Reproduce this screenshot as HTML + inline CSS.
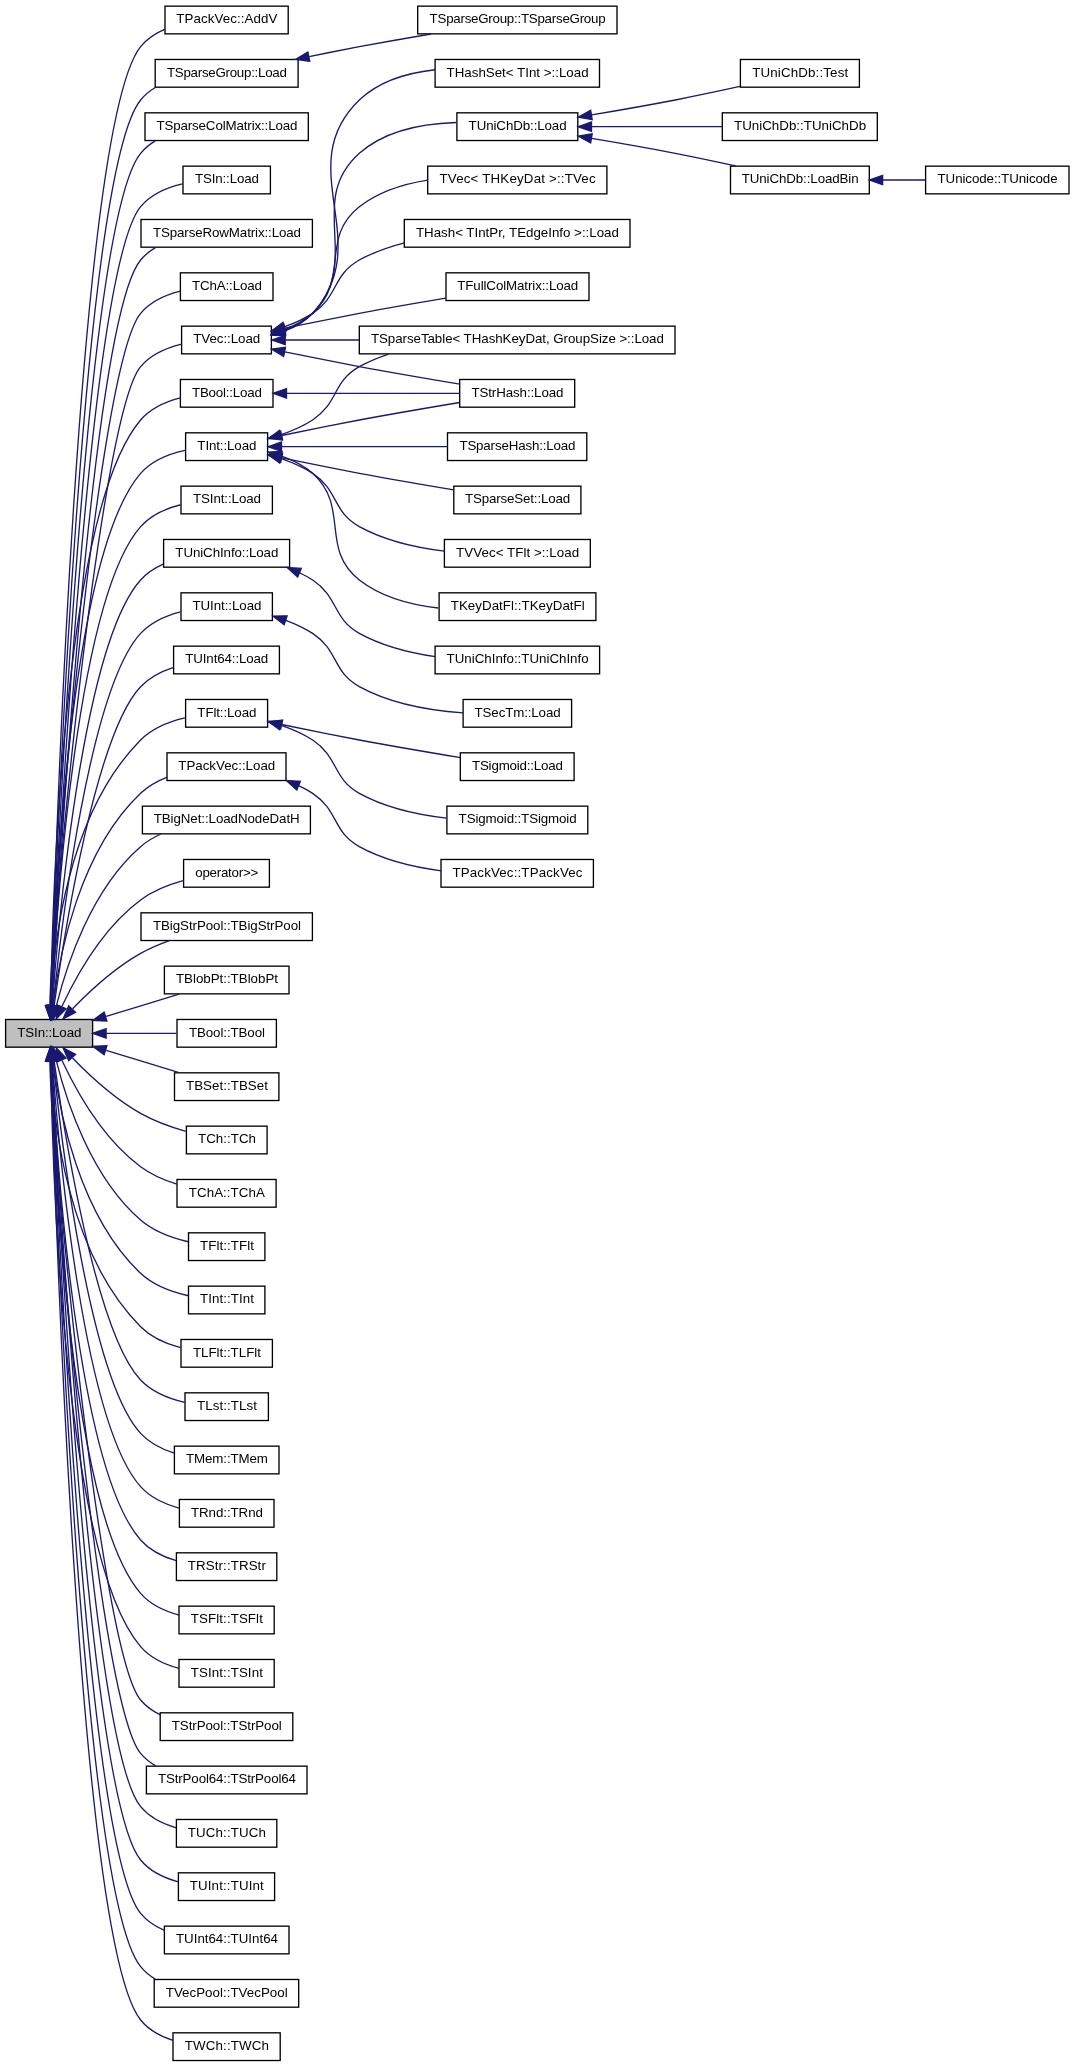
<!DOCTYPE html>
<html lang="en"><head><meta charset="utf-8"><title>TSIn::Load call graph</title>
<style>html,body{margin:0;padding:0;background:#fff}svg{display:block;will-change:transform}.n rect{fill:#fff;stroke:#000;stroke-width:1.33}.n text{font-family:"Liberation Sans",sans-serif;font-size:13.33px;fill:#000;text-anchor:middle}.e path{fill:none;stroke:#191970;stroke-width:1.33}.e polygon{fill:#191970;stroke:#191970;stroke-width:1.33}</style></head><body>
<svg width="1075" height="2067" viewBox="0 0 1075 2067">
<rect x="0" y="0" width="1075" height="2067" fill="#fff"/>
<g class="n">
<rect x="5.6" y="1019.48" width="87" height="27.7" style="fill:#bfbfbf"/><text x="49.35" y="1037" textLength="64">TSIn::Load</text>
<rect x="165" y="6.15" width="123.2" height="27.7"/><text x="226.85" y="23" textLength="101">TPackVec::AddV</text>
<rect x="155.2" y="59.48" width="142.9" height="27.7"/><text x="226.9" y="77" textLength="120">TSparseGroup::Load</text>
<rect x="145" y="112.82" width="163.3" height="27.7"/><text x="226.9" y="130" textLength="141">TSparseColMatrix::Load</text>
<rect x="183" y="166.15" width="87.4" height="27.7"/><text x="226.95" y="183" textLength="64">TSIn::Load</text>
<rect x="141" y="219.48" width="171.4" height="27.7"/><text x="226.95" y="237" textLength="148">TSparseRowMatrix::Load</text>
<rect x="180.4" y="272.82" width="92.6" height="27.7"/><text x="226.95" y="290" textLength="70">TChA::Load</text>
<rect x="181.6" y="326.15" width="89.8" height="27.7"/><text x="226.75" y="343" textLength="67">TVec::Load</text>
<rect x="180.4" y="379.48" width="92.6" height="27.7"/><text x="226.95" y="397" textLength="70">TBool::Load</text>
<rect x="185.6" y="432.82" width="82" height="27.7"/><text x="226.85" y="450" textLength="59">TInt::Load</text>
<rect x="181" y="486.15" width="91.4" height="27.7"/><text x="226.95" y="503" textLength="68">TSInt::Load</text>
<rect x="163.6" y="539.48" width="126" height="27.7"/><text x="226.85" y="557" textLength="103">TUniChInfo::Load</text>
<rect x="181" y="592.82" width="91.4" height="27.7"/><text x="226.95" y="610" textLength="69">TUInt::Load</text>
<rect x="173.6" y="646.15" width="105.8" height="27.7"/><text x="226.75" y="663" textLength="83">TUInt64::Load</text>
<rect x="185.6" y="699.48" width="82" height="27.7"/><text x="226.85" y="717" textLength="59">TFlt::Load</text>
<rect x="167" y="752.82" width="119" height="27.7"/><text x="226.75" y="770" textLength="97">TPackVec::Load</text>
<rect x="142.4" y="806.15" width="168" height="27.7"/><text x="226.65" y="823" textLength="146">TBigNet::LoadNodeDatH</text>
<rect x="183.6" y="859.48" width="85.8" height="27.7"/><text x="226.75" y="877" textLength="63">operator&gt;&gt;</text>
<rect x="141" y="912.82" width="171.4" height="27.7"/><text x="226.95" y="930" textLength="148">TBigStrPool::TBigStrPool</text>
<rect x="164.4" y="966.15" width="124.6" height="27.7"/><text x="226.95" y="983" textLength="102">TBlobPt::TBlobPt</text>
<rect x="177" y="1019.48" width="99.4" height="27.7"/><text x="226.95" y="1037" textLength="76">TBool::TBool</text>
<rect x="174.5" y="1072.82" width="104.4" height="27.7"/><text x="226.95" y="1090" textLength="82">TBSet::TBSet</text>
<rect x="186.4" y="1126.15" width="80.7" height="27.7"/><text x="227" y="1143" textLength="58">TCh::TCh</text>
<rect x="177" y="1179.48" width="99.1" height="27.7"/><text x="226.8" y="1197" textLength="76">TChA::TChA</text>
<rect x="188.5" y="1232.82" width="76.4" height="27.7"/><text x="226.95" y="1250" textLength="54">TFlt::TFlt</text>
<rect x="188.5" y="1286.15" width="76.4" height="27.7"/><text x="226.95" y="1303" textLength="54">TInt::TInt</text>
<rect x="181" y="1339.48" width="91.4" height="27.7"/><text x="226.95" y="1357" textLength="68">TLFlt::TLFlt</text>
<rect x="185" y="1392.82" width="83.4" height="27.7"/><text x="226.95" y="1410" textLength="60">TLst::TLst</text>
<rect x="174.4" y="1446.15" width="104.6" height="27.7"/><text x="226.95" y="1463" textLength="82">TMem::TMem</text>
<rect x="179.4" y="1499.48" width="94.6" height="27.7"/><text x="226.95" y="1517" textLength="72">TRnd::TRnd</text>
<rect x="176.4" y="1552.82" width="100.4" height="27.7"/><text x="226.85" y="1570" textLength="78">TRStr::TRStr</text>
<rect x="179" y="1606.15" width="95.2" height="27.7"/><text x="226.85" y="1623" textLength="72">TSFlt::TSFlt</text>
<rect x="179" y="1659.48" width="95.2" height="27.7"/><text x="226.85" y="1677" textLength="72">TSInt::TSInt</text>
<rect x="160.2" y="1712.82" width="132.6" height="27.7"/><text x="226.75" y="1730" textLength="110">TStrPool::TStrPool</text>
<rect x="146.4" y="1766.15" width="160.6" height="27.7"/><text x="226.95" y="1783" textLength="138">TStrPool64::TStrPool64</text>
<rect x="176.4" y="1819.48" width="100.4" height="27.7"/><text x="226.85" y="1837" textLength="78">TUCh::TUCh</text>
<rect x="178.4" y="1872.82" width="96.2" height="27.7"/><text x="226.75" y="1890" textLength="74">TUInt::TUInt</text>
<rect x="164.4" y="1926.15" width="124.6" height="27.7"/><text x="226.95" y="1943" textLength="102">TUInt64::TUInt64</text>
<rect x="154.2" y="1979.48" width="144.5" height="27.7"/><text x="226.7" y="1997" textLength="122">TVecPool::TVecPool</text>
<rect x="173" y="2032.82" width="107.2" height="27.7"/><text x="226.85" y="2050" textLength="84">TWCh::TWCh</text>
<rect x="417.7" y="6.15" width="199.3" height="27.7"/><text x="517.6" y="23" textLength="176">TSparseGroup::TSparseGroup</text>
<rect x="435.1" y="59.48" width="164.4" height="27.7"/><text x="517.55" y="77" textLength="142">THashSet&lt; TInt &gt;::Load</text>
<rect x="456.9" y="112.82" width="120.9" height="27.7"/><text x="517.6" y="130" textLength="98">TUniChDb::Load</text>
<rect x="427.7" y="166.15" width="179.2" height="27.7"/><text x="517.55" y="183" textLength="156">TVec&lt; THKeyDat &gt;::TVec</text>
<rect x="404.3" y="219.48" width="225.7" height="27.7"/><text x="517.4" y="237" textLength="203">THash&lt; TIntPr, TEdgeInfo &gt;::Load</text>
<rect x="446" y="272.82" width="143" height="27.7"/><text x="517.75" y="290" textLength="121">TFullColMatrix::Load</text>
<rect x="359.3" y="326.15" width="315.7" height="27.7"/><text x="517.4" y="343" textLength="293">TSparseTable&lt; THashKeyDat, GroupSize &gt;::Load</text>
<rect x="459.7" y="379.48" width="115" height="27.7"/><text x="517.45" y="397" textLength="92">TStrHash::Load</text>
<rect x="447.5" y="432.82" width="139.3" height="27.7"/><text x="517.4" y="450" textLength="116">TSparseHash::Load</text>
<rect x="453.8" y="486.15" width="127.1" height="27.7"/><text x="517.6" y="503" textLength="105">TSparseSet::Load</text>
<rect x="444.4" y="539.48" width="145.9" height="27.7"/><text x="517.6" y="557" textLength="123">TVVec&lt; TFlt &gt;::Load</text>
<rect x="439.1" y="592.82" width="156.8" height="27.7"/><text x="517.75" y="610" textLength="134">TKeyDatFl::TKeyDatFl</text>
<rect x="435.1" y="646.15" width="164.5" height="27.7"/><text x="517.6" y="663" textLength="142">TUniChInfo::TUniChInfo</text>
<rect x="463.1" y="699.48" width="108.5" height="27.7"/><text x="517.6" y="717" textLength="86">TSecTm::Load</text>
<rect x="460.3" y="752.82" width="113.8" height="27.7"/><text x="517.45" y="770" textLength="91">TSigmoid::Load</text>
<rect x="446.9" y="806.15" width="140.9" height="27.7"/><text x="517.6" y="823" textLength="118">TSigmoid::TSigmoid</text>
<rect x="441" y="859.48" width="152.4" height="27.7"/><text x="517.45" y="877" textLength="130">TPackVec::TPackVec</text>
<rect x="740.4" y="59.48" width="119" height="27.7"/><text x="800.15" y="77" textLength="96">TUniChDb::Test</text>
<rect x="722.3" y="112.82" width="155" height="27.7"/><text x="800.05" y="130" textLength="132">TUniChDb::TUniChDb</text>
<rect x="730.5" y="166.15" width="138.8" height="27.7"/><text x="800.15" y="183" textLength="117">TUniChDb::LoadBin</text>
<rect x="925.6" y="166.15" width="143.4" height="27.7"/><text x="997.55" y="183" textLength="120">TUnicode::TUnicode</text>
</g>
<g class="e">
<path d="M51.15,1005.55 C55.35,853.19 78.6,123.39 140.63,46.67 147.02,38.75 155.74,33.14 165.16,29.18"/><polygon points="55.82,1005.95 50.79,1019.15 46.48,1005.7 55.82,1005.95"/>
<path d="M51.3,1005.68 C56.16,858.6 81.91,172.23 140.63,100 144.71,94.98 149.72,90.88 155.26,87.54"/><polygon points="55.96,1006.04 50.86,1019.22 46.63,1005.74 55.96,1006.04"/>
<path d="M51.48,1005.5 C57.08,863.16 85.26,221.03 140.63,153.34 144.72,148.32 149.75,144.23 155.3,140.9"/><polygon points="56.14,1005.86 50.96,1019 46.8,1005.5 56.14,1005.86"/>
<path d="M51.67,1005.47 C58.03,868.4 88.58,269.87 140.63,206.67 150.9,194.16 166.98,187.43 182.39,183.83"/><polygon points="56.34,1005.78 51.06,1018.88 47,1005.35 56.34,1005.78"/>
<path d="M51.88,1005.64 C59,874.38 91.87,318.75 140.63,260 144.86,254.9 150.04,250.75 155.76,247.39"/><polygon points="56.54,1006.11 51.16,1019.18 47.22,1005.62 56.54,1006.11"/>
<path d="M50.04,1005.48 C49.5,945.93 95.53,367.21 140.63,313.34 150.5,301.5 165.58,294.84 180.28,291.12"/><polygon points="54.71,1005.71 50.19,1019.1 45.38,1005.82 54.71,1005.71"/>
<path d="M50.35,1005.4 C50.47,948.58 98.84,416.1 140.63,366.67 150.86,354.52 166.56,347.84 181.67,344.18"/><polygon points="55.02,1005.7 50.35,1019.03 45.68,1005.7 55.02,1005.7"/>
<path d="M50.72,1005.26 C52.4,897.23 63.76,509.99 140.63,420 150.63,408.27 165.74,401.64 180.43,397.91"/><polygon points="55.38,1005.83 50.54,1019.1 46.04,1005.71 55.38,1005.83"/>
<path d="M51.14,1005.76 C54.3,904.48 70.16,554.67 140.63,473.34 151.71,460.51 168.9,453.78 184.91,450.28"/><polygon points="55.8,1006.14 50.75,1019.32 46.47,1005.87 55.8,1006.14"/>
<path d="M51.67,1005.38 C56.47,909.96 76.76,599.15 140.63,526.67 150.8,515.1 165.95,508.48 180.63,504.74"/><polygon points="56.31,1006.12 51.02,1019.23 46.99,1005.68 56.31,1006.12"/>
<path d="M52.31,1005.46 C58.82,916.84 83.22,643.83 140.63,580 146.8,573.12 154.74,567.99 163.26,564.19"/><polygon points="56.95,1005.94 51.35,1018.9 47.64,1005.27 56.95,1005.94"/>
<path d="M53.1,1005.62 C61.44,924.3 89.62,688.59 140.63,633.34 150.96,622.11 165.96,615.58 180.47,611.79"/><polygon points="57.7,1006.52 51.72,1019.32 48.4,1005.6 57.7,1006.52"/>
<path d="M54.08,1005.96 C64.4,932.51 95.97,733.48 140.63,686.67 149.44,677.4 161.44,671.34 173.63,667.38"/><polygon points="58.7,1006.7 52.26,1019.27 49.44,1005.42 58.7,1006.7"/>
<path d="M50.8,1005.15 C53.14,947.28 66.71,814.27 140.63,740 152.35,728.19 169.26,721.6 184.88,717.92"/><polygon points="55.47,1005.58 50.42,1018.78 46.14,1005.31 55.47,1005.58"/>
<path d="M53.03,1005.55 C59.15,955.87 78.96,851.59 140.63,793.34 148.12,786.23 157.5,781.02 167.24,777.2"/><polygon points="57.63,1006.36 51.54,1019.1 48.35,1005.34 57.63,1006.36"/>
<path d="M56.28,1006.1 C66.4,965.52 91,889.44 140.63,846.67 146.58,841.52 153.51,837.38 160.8,834.02"/><polygon points="60.78,1007.39 53.19,1019.31 51.68,1005.26 60.78,1007.39"/>
<path d="M61.86,1006.51 C76.02,976.35 103.01,927.96 140.63,900 153.23,890.6 169.23,884.46 183.92,880.47"/><polygon points="65.98,1008.71 56.26,1018.94 57.47,1004.87 65.98,1008.71"/>
<path d="M72.56,1008.75 C89.59,991.14 114.61,968.03 140.63,953.34 149.35,948.39 159.1,944.24 168.79,940.8"/><polygon points="75.56,1012.36 63.04,1018.88 68.76,1005.96 75.56,1012.36"/>
<path d="M106.13,1016.35 C129.7,1009.18 156.76,1000.94 179.11,994.11"/><polygon points="106.89,1020.99 92.71,1020.43 104.15,1012.07 106.89,1020.99"/>
<path d="M106.33,1033.34 C128.98,1033.34 154.83,1033.34 176.6,1033.34"/><polygon points="106.1,1038 92.71,1033.34 106.1,1028.67 106.1,1038"/>
<path d="M106.13,1050.32 C129.7,1057.5 156.76,1065.74 179.11,1072.56"/><polygon points="104.15,1054.6 92.71,1046.24 106.89,1045.68 104.15,1054.6"/>
<path d="M72.56,1057.92 C89.59,1075.54 114.61,1098.64 140.63,1113.34 154.58,1121.24 171.16,1127.12 185.94,1131.32"/><polygon points="68.76,1060.71 63.04,1047.79 75.56,1054.31 68.76,1060.71"/>
<path d="M61.86,1060.16 C76.02,1090.32 103.01,1138.71 140.63,1166.67 151.26,1174.59 164.3,1180.2 176.92,1184.16"/><polygon points="57.47,1061.8 56.26,1047.74 65.98,1057.96 57.47,1061.8"/>
<path d="M56.28,1060.58 C66.4,1101.15 91,1177.23 140.63,1220 153.91,1231.5 172.16,1238.04 188.31,1241.76"/><polygon points="51.68,1061.42 53.19,1047.36 60.78,1059.28 51.68,1061.42"/>
<path d="M53.03,1061.12 C59.15,1110.8 78.96,1215.08 140.63,1273.34 153.5,1285.52 171.88,1292.15 188.24,1295.74"/><polygon points="48.35,1061.34 51.54,1047.58 57.63,1060.31 48.35,1061.34"/>
<path d="M50.8,1061.52 C53.14,1119.39 66.71,1252.4 140.63,1326.67 151.27,1337.39 166.18,1343.8 180.51,1347.66"/><polygon points="46.14,1061.36 50.42,1047.9 55.47,1061.1 46.14,1061.36"/>
<path d="M54.08,1060.71 C64.4,1134.16 95.97,1333.19 140.63,1380 152.1,1392.07 168.95,1398.7 184.62,1402.34"/><polygon points="49.44,1061.26 52.26,1047.4 58.7,1059.98 49.44,1061.26"/>
<path d="M53.1,1061.06 C61.44,1142.38 89.62,1378.08 140.63,1433.34 149.5,1442.98 161.8,1449.16 174.3,1453.11"/><polygon points="48.4,1061.07 51.72,1047.35 57.7,1060.15 48.4,1061.07"/>
<path d="M52.31,1061.22 C58.82,1149.83 83.22,1422.84 140.63,1486.67 150.51,1497.68 164.88,1504.19 178.99,1508.02"/><polygon points="47.64,1061.4 51.35,1047.78 56.95,1060.74 47.64,1061.4"/>
<path d="M51.67,1061.3 C56.47,1156.71 76.76,1467.52 140.63,1540 149.78,1550.43 162.96,1556.82 176.22,1560.72"/><polygon points="46.99,1060.99 51.02,1047.44 56.31,1060.55 46.99,1060.99"/>
<path d="M51.14,1060.91 C54.3,1162.19 70.16,1512 140.63,1593.34 150.4,1604.64 164.92,1611.22 179.19,1615.02"/><polygon points="46.47,1060.8 50.75,1047.35 55.8,1060.54 46.47,1060.8"/>
<path d="M50.72,1061.42 C52.4,1169.44 63.76,1556.68 140.63,1646.67 150.32,1658.04 164.83,1664.63 179.11,1668.42"/><polygon points="46.04,1060.96 50.54,1047.58 55.38,1060.84 46.04,1060.96"/>
<path d="M50.35,1061.27 C50.47,1118.1 98.84,1650.58 140.63,1700 145.99,1706.36 152.86,1711.23 160.35,1714.95"/><polygon points="45.68,1060.98 50.35,1047.64 55.02,1060.98 45.68,1060.98"/>
<path d="M50.04,1061.19 C49.5,1120.74 95.53,1699.46 140.63,1753.34 144.87,1758.43 150.08,1762.56 155.8,1765.91"/><polygon points="45.38,1060.86 50.19,1047.58 54.71,1060.96 45.38,1060.86"/>
<path d="M51.88,1061.03 C59,1192.3 91.87,1747.92 140.63,1806.67 149.56,1817.48 162.84,1823.98 176.26,1827.86"/><polygon points="47.22,1061.06 51.16,1047.5 56.54,1060.56 47.22,1061.06"/>
<path d="M51.67,1061.2 C58.03,1198.27 88.58,1796.8 140.63,1860 150.02,1871.44 164.27,1878.06 178.42,1881.84"/><polygon points="47,1061.32 51.06,1047.79 56.34,1060.9 47,1061.32"/>
<path d="M51.48,1061.18 C57.08,1203.51 85.26,1845.64 140.63,1913.34 146.86,1920.98 155.27,1926.47 164.38,1930.4"/><polygon points="46.8,1061.18 50.96,1047.67 56.14,1060.82 46.8,1061.18"/>
<path d="M51.3,1060.99 C56.16,1208.07 81.91,1894.44 140.63,1966.67 144.71,1971.7 149.72,1975.79 155.26,1979.14"/><polygon points="46.63,1060.94 50.86,1047.46 55.96,1060.63 46.63,1060.94"/>
<path d="M51.15,1061.12 C55.35,1213.48 78.6,1943.28 140.63,2020 148.75,2030.08 160.66,2036.42 172.99,2040.38"/><polygon points="46.48,1060.98 50.79,1047.52 55.82,1060.72 46.48,1060.98"/>
<path d="M309.14,56.62 C325.76,53.23 343.08,49.76 359.3,46.67 382.5,42.36 407.67,37.96 430.91,34"/><polygon points="309.71,61.27 295.72,59.31 307.87,52.11 309.71,61.27"/>
<path d="M284.44,331.22 C294.99,327.27 305.07,321.56 312.63,313.34 377.09,241.8 290.12,166.88 359.3,100 379.42,80.92 407.89,72.71 435.05,69.78"/><polygon points="285.59,335.75 271.47,335.23 282.83,326.83 285.59,335.75"/>
<path d="M284.31,330.68 C294.79,326.78 304.86,321.22 312.63,313.34 363.43,260.48 305,202.51 359.3,153.34 385.45,130.22 424.01,123.44 456.33,122.5"/><polygon points="285.59,335.18 271.47,334.7 282.8,326.27 285.59,335.18"/>
<path d="M284.5,329.51 C294.7,325.68 304.62,320.46 312.63,313.34 350.4,278.8 319.32,238.47 359.3,206.67 378.73,191.64 403.58,183.84 427.74,180.07"/><polygon points="285.7,334.03 271.56,333.66 282.84,325.14 285.7,334.03"/>
<path d="M284.82,326.72 C294.51,323.19 304.16,318.78 312.63,313.34 338.72,296.08 332.14,275.39 359.3,260 373.19,252.35 388.75,246.79 404.53,242.78"/><polygon points="285.82,331.31 271.7,331.03 282.91,322.43 285.82,331.31"/>
<path d="M284.82,328.19 C308.26,323.42 335.08,317.96 359.3,313.34 387.51,308.1 418.66,302.72 445.7,298.18"/><polygon points="285.52,332.8 271.52,330.91 283.64,323.67 285.52,332.8"/>
<path d="M285.63,340 C307.5,340 333,340 358.91,340"/><polygon points="285.24,344.67 271.91,340 285.24,335.34 285.24,344.67"/>
<path d="M284.82,351.82 C308.26,356.59 335.08,362.04 359.3,366.67 392.53,372.83 429.83,379.2 459.7,384.18"/><polygon points="283.64,356.34 271.52,349.1 285.52,347.2 283.64,356.34"/>
<path d="M286.91,393.34 C337.12,393.34 409.54,393.34 459.66,393.34"/><polygon points="286.51,398 273.18,393.34 286.51,388.67 286.51,398"/>
<path d="M281.3,434.63 C292.15,430.9 303.14,426.11 312.63,420 338.72,402.75 332.14,382.06 359.3,366.67 368.49,361.62 378.39,357.47 388.61,354.08"/><polygon points="282.35,439.19 268.23,438.68 279.59,430.28 282.35,439.19"/>
<path d="M281.76,435.48 C305.86,430.56 334.02,424.83 359.3,420 392.53,413.84 429.83,407.47 459.7,402.5"/><polygon points="282.55,440.08 268.55,438.19 280.67,430.94 282.55,440.08"/>
<path d="M282.11,446.67 C328.88,446.67 396.75,446.67 447.73,446.67"/><polygon points="281.52,451.34 268.19,446.67 281.52,442 281.52,451.34"/>
<path d="M281.76,457.86 C305.86,462.78 334.02,468.51 359.3,473.34 390.37,479.1 424.98,485.04 453.75,489.86"/><polygon points="280.67,462.4 268.55,455.15 282.55,453.26 280.67,462.4"/>
<path d="M281.3,458.71 C292.15,462.44 303.14,467.23 312.63,473.34 338.72,490.59 332.14,511.28 359.3,526.67 385.05,540.84 416.47,547.84 444.42,551.18"/><polygon points="279.59,463.06 268.23,454.66 282.35,454.15 279.59,463.06"/>
<path d="M280.92,455.87 C292.35,459.79 303.67,465.38 312.63,473.34 350.4,507.87 319.32,548.2 359.3,580 381.57,597.22 410.95,604.95 438.26,608.02"/><polygon points="279.58,460.35 268.1,452.12 282.2,451.39 279.58,460.35"/>
<path d="M299.52,572.75 C304.08,574.94 308.5,577.35 312.63,580 338.72,597.26 332.14,617.95 359.3,633.34 382.26,645.98 409.75,652.91 435.26,656.63"/><polygon points="297.62,577.02 287.18,567.5 301.28,568.43 297.62,577.02"/>
<path d="M285.74,620.3 C295.11,623.76 304.43,628.07 312.63,633.34 338.72,650.59 332.14,671.28 359.3,686.67 390.97,704.1 431.25,710.67 463.03,712.94"/><polygon points="284.18,624.68 273,616.04 287.12,615.83 284.18,624.68"/>
<path d="M281.76,724.52 C305.86,729.44 334.02,735.18 359.3,740 392.81,746.22 430.45,752.64 460.43,757.63"/><polygon points="280.67,729.07 268.55,721.82 282.55,719.92 280.67,729.07"/>
<path d="M281.3,725.38 C292.15,729.11 303.14,733.9 312.63,740 338.72,757.26 332.14,777.95 359.3,793.34 385.65,807.84 417.95,814.83 446.38,818.07"/><polygon points="279.59,729.72 268.23,721.32 282.35,720.82 279.59,729.72"/>
<path d="M298.64,785.67 C303.52,787.96 308.23,790.51 312.63,793.34 338.72,810.59 332.14,831.28 359.3,846.67 384.07,860.31 414.13,867.3 441.26,870.79"/><polygon points="296.79,789.95 286.3,780.5 300.39,781.35 296.79,789.95"/>
<path d="M591.7,114.91 C618.09,110.48 648.07,105.24 675.3,100 696.36,95.88 719.38,90.96 739.97,86.47"/><polygon points="592.18,119.56 578.26,117.15 590.65,110.35 592.18,119.56"/>
<path d="M592.01,126.67 C632.41,126.67 682.38,126.67 722.52,126.67"/><polygon points="591.49,131.34 578.15,126.67 591.49,122 591.49,131.34"/>
<path d="M591.7,138.43 C618.09,142.86 648.07,148.1 675.3,153.34 694.87,157.16 716.15,161.68 735.56,165.91"/><polygon points="590.65,142.99 578.26,136.19 592.18,133.78 590.65,142.99"/>
<path d="M883.02,180 C896.94,180 911.32,180 924.95,180"/><polygon points="882.62,184.67 869.28,180 882.62,175.34 882.62,184.67"/>
</g>
</svg></body></html>
